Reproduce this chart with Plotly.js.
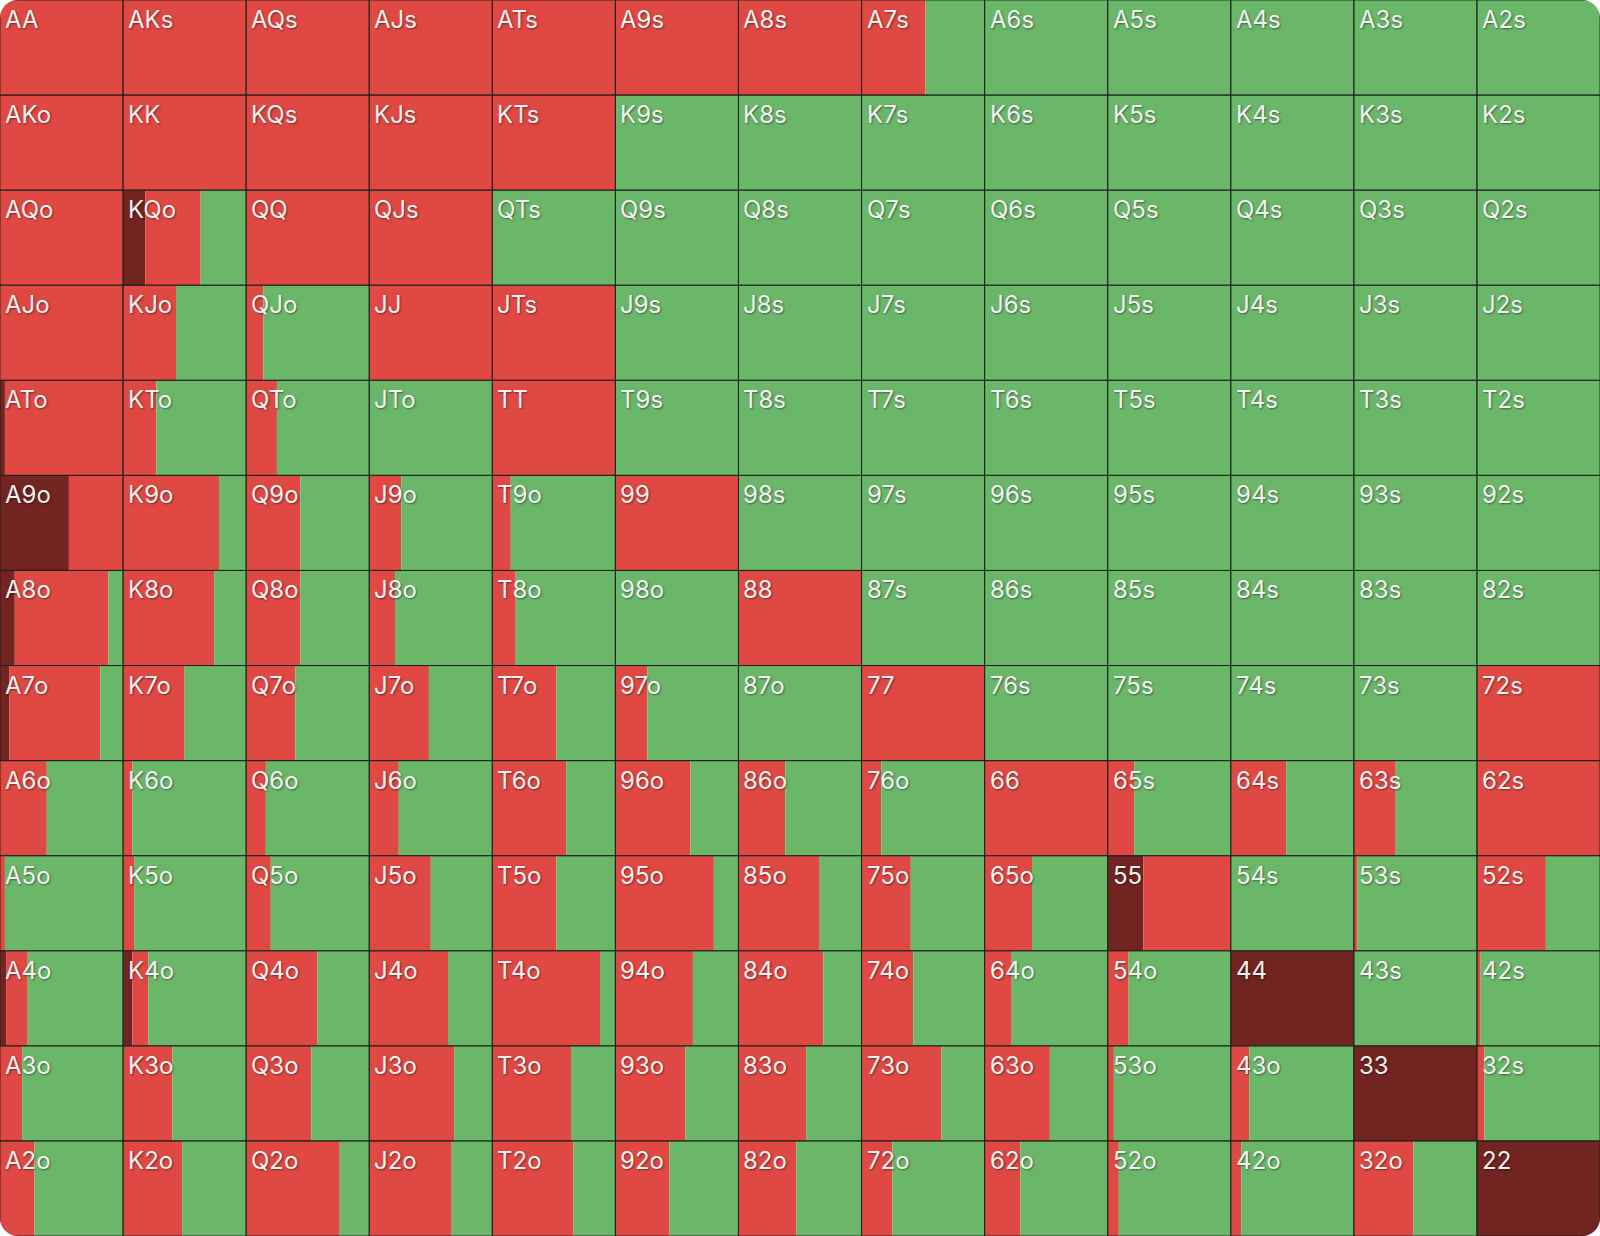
<!DOCTYPE html>
<html>
<head>
<meta charset="utf-8">
<script src="https://cdn.plot.ly/plotly-3.0.1.min.js"></script>
<style>
  html, body { margin: 0; padding: 0; background: #ffffff; }
  #chart { width: 1600px; height: 1236px; border-radius: 18px; overflow: hidden; }
</style>
</head>
<body>
<div id="chart"></div>
<script>
// Rank order (rows and columns)
const ranks = ['A','K','Q','J','T','9','8','7','6','5','4','3','2'];

// Fraction of each cell in dark red (drawn first, from the left)
const darkFrac = [
  [0,0,0,0,0,0,0,0,0,0,0,0,0],
  [0,0,0,0,0,0,0,0,0,0,0,0,0],
  [0,0.18,0,0,0,0,0,0,0,0,0,0,0],
  [0,0,0,0,0,0,0,0,0,0,0,0,0],
  [0.04,0,0,0,0,0,0,0,0,0,0,0,0],
  [0.56,0,0,0,0,0,0,0,0,0,0,0,0],
  [0.12,0,0,0,0,0,0,0,0,0,0,0,0],
  [0.075,0,0,0,0,0,0,0,0,0,0,0,0],
  [0,0,0,0,0,0,0,0,0,0,0,0,0],
  [0,0,0,0,0,0,0,0,0,0.29,0,0,0],
  [0.05,0.075,0,0,0,0,0,0,0,0,1,0,0],
  [0,0,0,0,0,0,0,0,0,0,0,1,0],
  [0,0,0,0,0,0,0,0,0,0,0,0,1]
];

// Fraction of each cell in red (after the dark red part)
const redFrac = [
  [1,1,1,1,1,1,1,0.52,0,0,0,0,0],
  [1,1,1,1,1,0,0,0,0,0,0,0,0],
  [1,0.45,1,1,0,0,0,0,0,0,0,0,0],
  [1,0.43,0.14,1,1,0,0,0,0,0,0,0,0],
  [0.96,0.27,0.25,0,1,0,0,0,0,0,0,0,0],
  [0.44,0.78,0.44,0.26,0.15,1,0,0,0,0,0,0,0],
  [0.76,0.74,0.44,0.21,0.19,0,1,0,0,0,0,0,0],
  [0.74,0.50,0.40,0.485,0.52,0.26,0,1,0,0,0,0,1],
  [0.38,0.075,0.16,0.24,0.60,0.61,0.38,0.16,1,0.215,0.45,0.34,1],
  [0.04,0.09,0.20,0.50,0.52,0.80,0.66,0.40,0.385,0.71,0,0.03,0.56],
  [0.175,0.13,0.58,0.64,0.875,0.63,0.69,0.42,0.22,0.17,0,0,0.03],
  [0.18,0.40,0.53,0.69,0.64,0.57,0.55,0.65,0.53,0.05,0.15,0,0.06],
  [0.28,0.48,0.76,0.67,0.66,0.44,0.47,0.25,0.29,0.09,0.085,0.485,0]
];

const colors = { dark: '#722420', red: '#E04843', green: '#6BB76A', grid: 'rgba(25,30,25,0.85)' };

function handLabel(r, c) {
  if (r === c) return ranks[r] + ranks[c];
  if (c > r) return ranks[r] + ranks[c] + 's';
  return ranks[c] + ranks[r] + 'o';
}

const rowsY = [], dark = {x:[],base:[]}, red = {x:[],base:[]}, green = {x:[],base:[]};
const cellBase = [], cellX = [], widths = [];
const annotations = [];
for (let r = 0; r < 13; r++) {
  for (let c = 0; c < 13; c++) {
    const d = darkFrac[r][c];
    const rd = redFrac[r][c];
    const g = Math.max(0, 1 - d - rd);
    rowsY.push(r);
    widths.push(1);
    dark.base.push(c); dark.x.push(d);
    red.base.push(c + d); red.x.push(rd);
    green.base.push(c + d + rd); green.x.push(g);
    cellBase.push(c); cellX.push(1);
    annotations.push({
      x: c, y: r - 0.5, xref: 'x', yref: 'y',
      text: handLabel(r, c), showarrow: false,
      xanchor: 'left', yanchor: 'top', xshift: 3, yshift: -3,
      font: { family: 'Inter, "Open Sans", sans-serif', size: 24, weight: 400, color: '#f2f2f2',
              shadow: '1px 1px 2px rgba(0,0,0,0.45)' }
    });
  }
}

function barTrace(seg, color) {
  return {
    type: 'bar', orientation: 'h', y: rowsY, x: seg.x, base: seg.base, width: widths,
    marker: { color: color, line: { width: 0 } }, hoverinfo: 'skip', showlegend: false
  };
}

const data = [
  barTrace(dark, colors.dark),
  barTrace(red, colors.red),
  barTrace(green, colors.green),
  {
    type: 'bar', orientation: 'h', y: rowsY, x: cellX, base: cellBase, width: widths,
    marker: { color: 'rgba(0,0,0,0)', line: { color: colors.grid, width: 1 } },
    hoverinfo: 'skip', showlegend: false
  }
];

const layout = {
  width: 1600, height: 1236,
  margin: { l: 0, r: 0, t: 0, b: 0, pad: 0 },
  barmode: 'overlay',
  paper_bgcolor: '#ffffff', plot_bgcolor: '#ffffff',
  xaxis: { range: [0, 13], showgrid: false, zeroline: false, showticklabels: false, fixedrange: true },
  yaxis: { range: [12.5, -0.5], showgrid: false, zeroline: false, showticklabels: false, fixedrange: true },
  annotations: annotations,
  hovermode: false
};

Plotly.newPlot('chart', data, layout, { displayModeBar: false, staticPlot: true });
</script>
</body>
</html>
